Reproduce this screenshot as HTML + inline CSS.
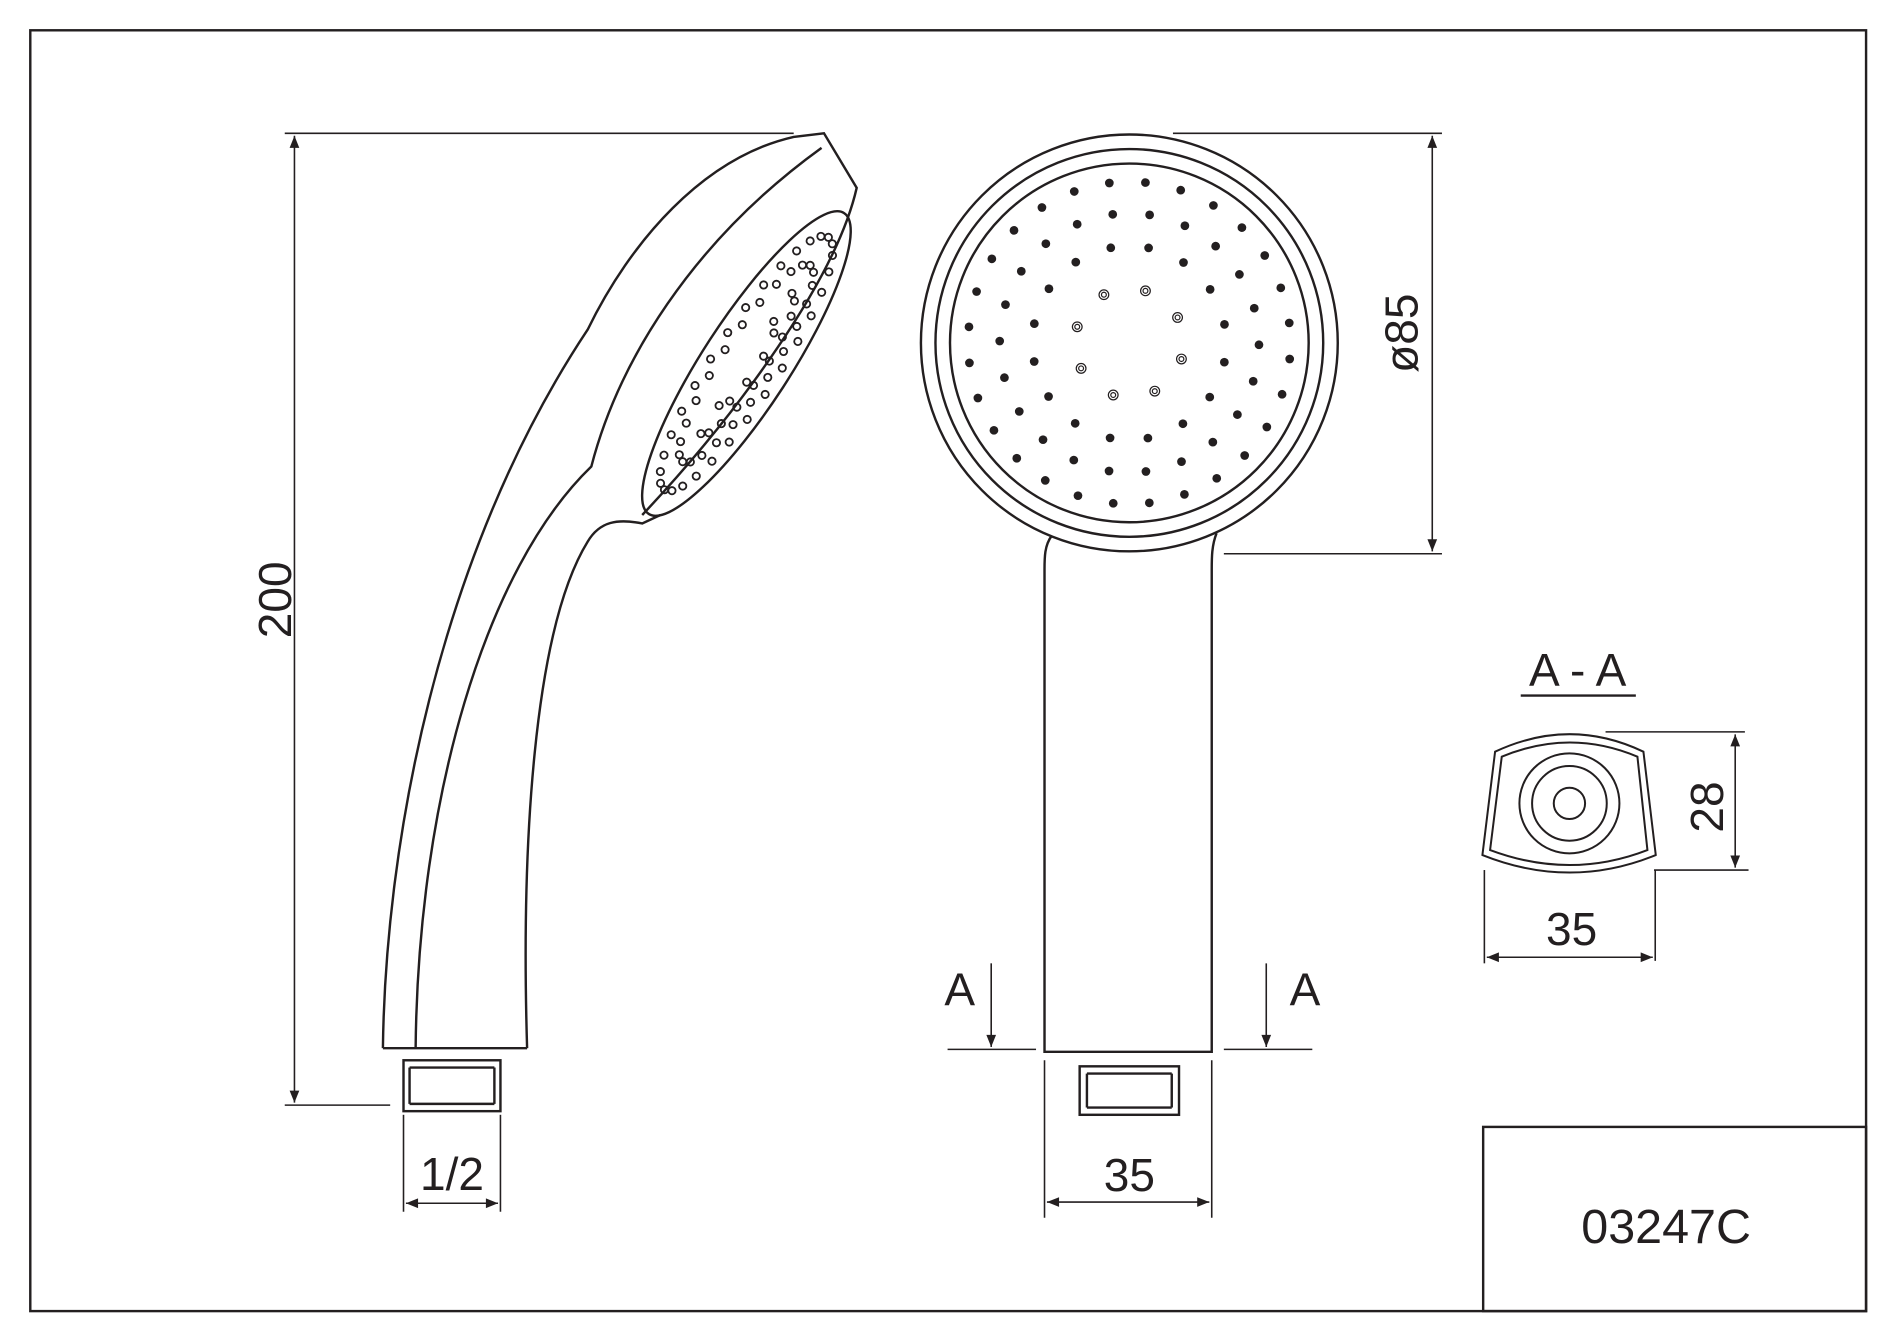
<!DOCTYPE html>
<html><head><meta charset="utf-8"><style>
html,body{margin:0;padding:0;background:#fff;}
svg{display:block}
text{font-family:"Liberation Sans",sans-serif;fill:#231f20}
</style></head><body>
<svg id="s" width="1900" height="1342" viewBox="0 0 1568 1107.5" preserveAspectRatio="none" xmlns="http://www.w3.org/2000/svg">
<defs>
<marker id="ar" viewBox="0 0 10 10" refX="10" refY="5" markerWidth="16" markerHeight="10" markerUnits="userSpaceOnUse" orient="auto-start-reverse"><path d="M0,1 L10,5 L0,9 Z" fill="#231f20"/></marker>
</defs>
<g fill="none" stroke="#231f20" stroke-width="2">
<rect x="25" y="25" width="1515" height="1057"/>
<rect x="1224" y="930" width="316" height="152"/>
</g>
<text x="1375" y="1026" font-size="40" text-anchor="middle">03247C</text>

<!-- side view -->
<g fill="none" stroke="#231f20" stroke-width="1.3">
<line x1="235" y1="110" x2="655" y2="110"/>
<line x1="235" y1="912" x2="322" y2="912"/>
<line x1="243" y1="112" x2="243" y2="910" marker-start="url(#ar)" marker-end="url(#ar)"/>
<line x1="333" y1="920" x2="333" y2="1000"/>
<line x1="413" y1="920" x2="413" y2="1000"/>
<line x1="335" y1="993" x2="411" y2="993" marker-start="url(#ar)" marker-end="url(#ar)"/>
</g>
<text transform="translate(240,495) rotate(-90)" font-size="38" text-anchor="middle">200</text>
<text x="373" y="982" font-size="38" text-anchor="middle">1/2</text>
<g fill="none" stroke="#231f20" stroke-width="2">
<path d="M316,865 C318,700 360,460 485,272 C520,200 580,130 655,113 L680,110 L707,155 C690,230 610,340 530,425"/>
<path d="M343,865 C345,660 400,470 488,385 C510,300 570,200 678,122"/>
<path d="M435,865 C430,700 440,520 485,447 C495,430 510,428 530,432 L545,425"/>
<line x1="316" y1="865" x2="435" y2="865"/>
<ellipse cx="616" cy="300" rx="148" ry="36" transform="rotate(-57 616 300)"/>
<rect x="333" y="875" width="80" height="42"/>
<line x1="338" y1="881" x2="408" y2="881"/><line x1="338" y1="911" x2="408" y2="911"/>
<line x1="338" y1="881" x2="338" y2="911"/><line x1="408" y1="881" x2="408" y2="911"/>
</g>
<g id="sdots" fill="none" stroke="#231f20" stroke-width="1.5"></g>

<!-- front view -->
<g fill="none" stroke="#231f20" stroke-width="2">
<circle cx="932" cy="283" r="172"/>
<circle cx="932" cy="283" r="160"/>
<circle cx="932" cy="283" r="148"/>
<path d="M868,442 C862,450 862,460 862,470 L862,868 L1000,868 L1000,470 C1000,460 1000,450 1004,440"/>
<rect x="891" y="880" width="82" height="40"/>
<line x1="897" y1="886" x2="967" y2="886"/><line x1="897" y1="914" x2="967" y2="914"/>
<line x1="897" y1="886" x2="897" y2="914"/><line x1="967" y1="886" x2="967" y2="914"/>
</g>
<g id="fdots" fill="#231f20"></g>
<g fill="none" stroke="#231f20" stroke-width="1.3">
<line x1="968" y1="110" x2="1190" y2="110"/>
<line x1="1010" y1="457" x2="1190" y2="457"/>
<line x1="1182" y1="112" x2="1182" y2="455" marker-start="url(#ar)" marker-end="url(#ar)"/>
<line x1="862" y1="875" x2="862" y2="1005"/>
<line x1="1000" y1="875" x2="1000" y2="1005"/>
<line x1="864" y1="992" x2="998" y2="992" marker-start="url(#ar)" marker-end="url(#ar)"/>
<line x1="818" y1="795" x2="818" y2="864" marker-end="url(#ar)"/>
<line x1="782" y1="866" x2="855" y2="866"/>
<line x1="1045" y1="795" x2="1045" y2="864" marker-end="url(#ar)"/>
<line x1="1010" y1="866" x2="1083" y2="866"/>
</g>
<text transform="translate(1170,275) rotate(-90)" font-size="38" text-anchor="middle">ø85</text>
<text x="932" y="983" font-size="38" text-anchor="middle">35</text>
<text x="792" y="830" font-size="38" text-anchor="middle">A</text>
<text x="1077" y="830" font-size="38" text-anchor="middle">A</text>

<!-- section A-A -->
<text x="1302" y="566" font-size="38" text-anchor="middle">A - A</text>
<line x1="1255" y1="574" x2="1350" y2="574" stroke="#231f20" stroke-width="2"/>
<g fill="none" stroke="#231f20" stroke-width="6" transform="translate(1196.7,577.7) scale(0.2751)">
<path d="M135,155 Q360,50 580,155 L617,465 Q360,570 97,465 Z"/>
<path d="M155,170 Q360,85 562,170 L592,450 Q360,540 120,450 Z"/>
<circle cx="358" cy="310" r="150"/>
<circle cx="358" cy="310" r="112"/>
<circle cx="358" cy="310" r="47"/>
</g>
<g fill="none" stroke="#231f20" stroke-width="1.3">
<line x1="1325" y1="604" x2="1440" y2="604"/>
<line x1="1365" y1="718" x2="1443" y2="718"/>
<line x1="1432" y1="606" x2="1432" y2="716" marker-start="url(#ar)" marker-end="url(#ar)"/>
<line x1="1225" y1="718" x2="1225" y2="795"/>
<line x1="1366" y1="718" x2="1366" y2="793"/>
<line x1="1227" y1="790" x2="1364" y2="790" marker-start="url(#ar)" marker-end="url(#ar)"/>
</g>
<text transform="translate(1422,666) rotate(-90)" font-size="38" text-anchor="middle">28</text>
<text x="1297" y="780" font-size="38" text-anchor="middle">35</text>
</svg>
<script>
(function(){
var NS="http://www.w3.org/2000/svg";
var f=document.getElementById("fdots");
var rings=[[133,28,0.1],[107,22,0.3],[80,16,0.2]];
rings.forEach(function(r){for(var i=0;i<r[1];i++){var a=r[2]+i*2*Math.PI/r[1];var c=document.createElementNS(NS,"circle");c.setAttribute("cx",932+r[0]*Math.cos(a));c.setAttribute("cy",283+r[0]*Math.sin(a));c.setAttribute("r",3.6);f.appendChild(c);}});
for(var i=0;i<8;i++){var a=i*Math.PI/4+0.3;var x=932+45*Math.cos(a),y=283+45*Math.sin(a);
[4,2].forEach(function(rr){var c=document.createElementNS(NS,"circle");c.setAttribute("cx",x);c.setAttribute("cy",y);c.setAttribute("r",rr);c.setAttribute("fill","none");c.setAttribute("stroke","#231f20");c.setAttribute("stroke-width","1");f.appendChild(c);});}
var s=document.getElementById("sdots");
var th=-57*Math.PI/180,ct=Math.cos(th),st=Math.sin(th);
[[0.9,30],[0.7,24],[0.5,18],[0.3,10]].forEach(function(r){for(var i=0;i<r[1];i++){var a=i*2*Math.PI/r[1];var u=138*r[0]*Math.cos(a),v=30*r[0]*Math.sin(a);
if(Math.sin(a)<-0.2 && r[0]<0.6) continue;
var x=616+u*ct-v*st,y=300+u*st+v*ct;var c=document.createElementNS(NS,"circle");c.setAttribute("cx",x);c.setAttribute("cy",y);c.setAttribute("r",3);s.appendChild(c);}});
})();
</script>
</body></html>
